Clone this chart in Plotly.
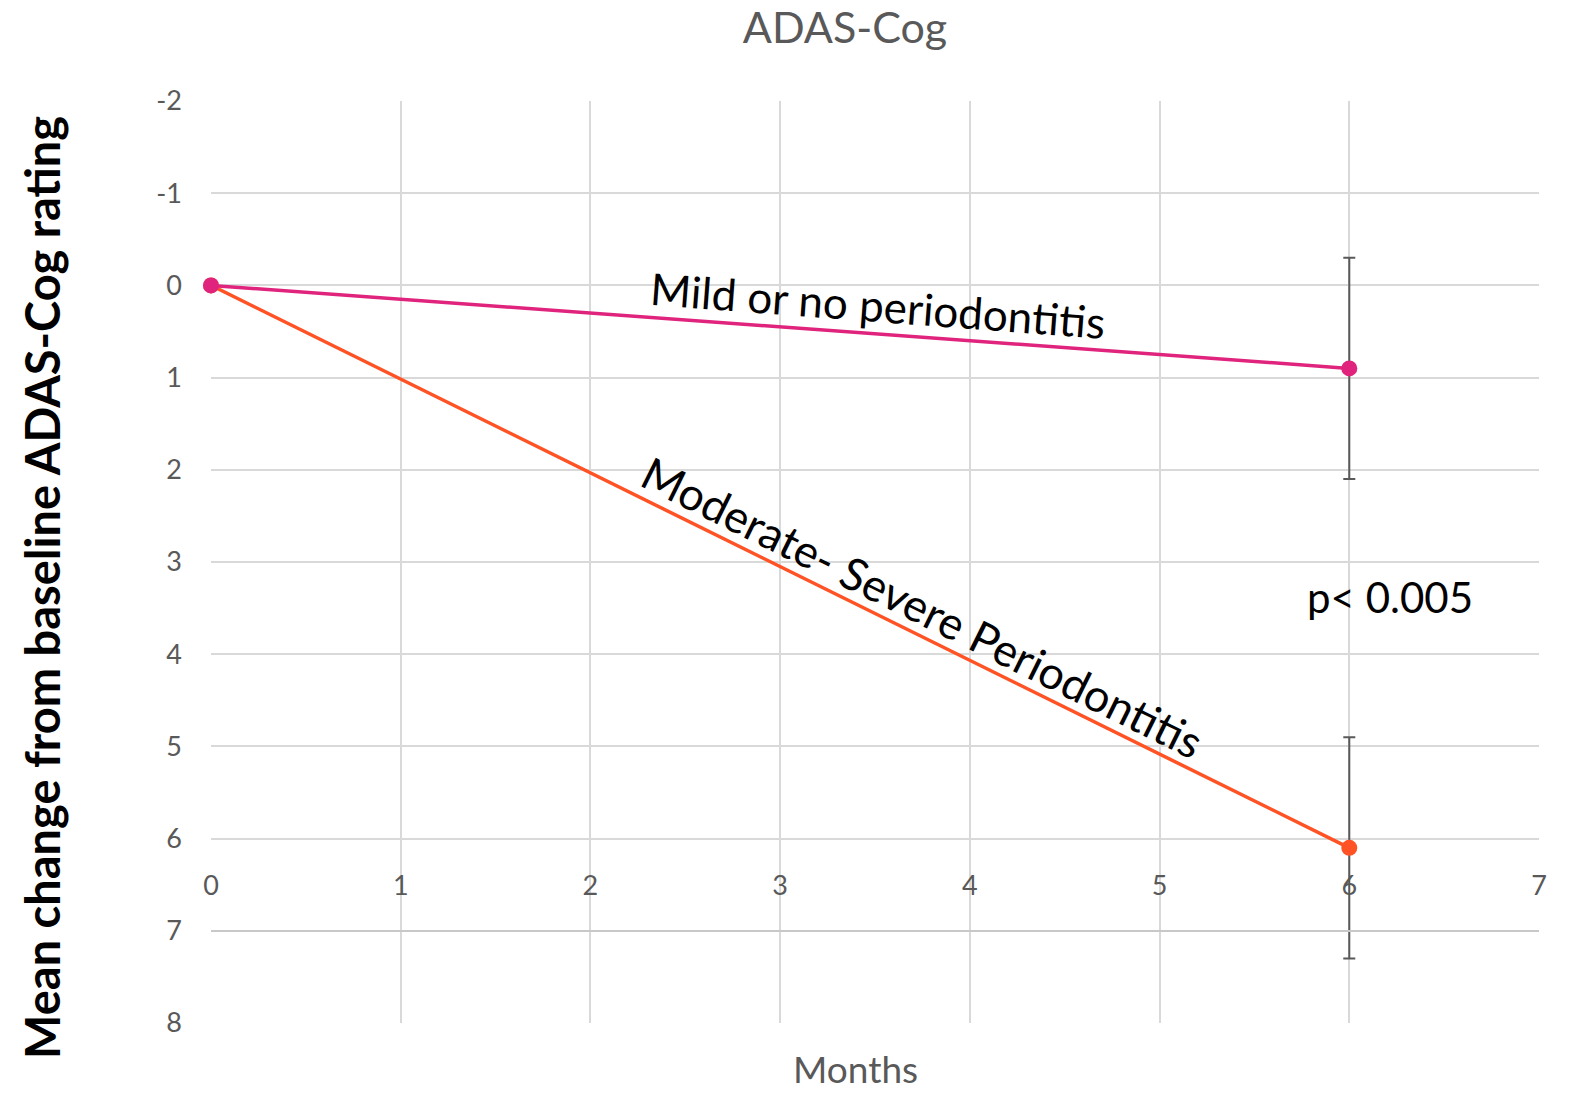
import plotly.graph_objects as go

months = [0, 6]
mild_vals = [0, 0.9]
mild_err = [0, 1.2]
mod_vals = [0, 6.1]
mod_err = [0, 1.2]
x_ticks = [0, 1, 2, 3, 4, 5, 6, 7]
y_ticks = [-2, -1, 0, 1, 2, 3, 4, 5, 6, 7, 8]
y_ticktext = ["-2", "-1", "0", "1", "2", "3", "4", "5", "6", "7", "8"]

MILD_C = "#E0247D"
MOD_C = "#FF5325"
GRID = "#d9d9d9"
TXT = "#595959"
FONT = "Lato, 'Open Sans', sans-serif"

fig = go.Figure()
fig.add_trace(go.Scatter(
    x=months, y=mod_vals, mode="lines+markers", cliponaxis=False,
    line=dict(color=MOD_C, width=3.5), marker=dict(size=16, color=MOD_C),
    error_y=dict(type="data", array=mod_err, visible=True, color="#595959", thickness=2, width=6),
    showlegend=False))
fig.add_trace(go.Scatter(
    x=months, y=mild_vals, mode="lines+markers", cliponaxis=False,
    line=dict(color=MILD_C, width=3.5), marker=dict(size=16, color=MILD_C),
    error_y=dict(type="data", array=mild_err, visible=True, color="#595959", thickness=2, width=6),
    showlegend=False))

fig.update_layout(
    width=1572, height=1095,
    margin=dict(l=211, r=33, t=101, b=72),
    paper_bgcolor="white", plot_bgcolor="white",
    font=dict(family=FONT, color=TXT),
    title=dict(text="ADAS-Cog", x=845/1572, y=1-28/1095, xanchor="center", yanchor="middle",
               font=dict(family=FONT, size=43, color=TXT)),
    xaxis=dict(range=[0, 7], tickvals=x_ticks, showgrid=True, gridcolor=GRID, gridwidth=2,
               zeroline=False, anchor="free", position=0.1, side="top",
               showline=True, linecolor="#c8c8c8", linewidth=2,
               ticks="", ticklabelstandoff=24,
               tickfont=dict(family=FONT, size=27, color=TXT)),
    yaxis=dict(range=[8, -2], tickvals=y_ticks, ticktext=y_ticktext, showgrid=True, gridcolor=GRID, gridwidth=2,
               zeroline=False, showline=False, ticks="", ticklabelstandoff=28,
               tickfont=dict(family=FONT, size=27, color=TXT)),
)

fig.add_annotation(text="Months", xref="paper", yref="paper", x=(855-211)/1328, y=(1023-1068)/922,
                   showarrow=False, font=dict(family=FONT, size=37, color=TXT), xanchor="center", yanchor="middle")
fig.add_annotation(text="Mean change from baseline ADAS-Cog rating", xref="paper", yref="paper",
                   x=(42-211)/1328, y=(1023-588)/922, textangle=-90, showarrow=False,
                   font=dict(family=FONT, size=47, color="black", weight="bold"),
                   xanchor="center", yanchor="middle")
fig.add_annotation(text="Mild or no periodontitis", x=3.516, y=0.21, textangle=4.3, showarrow=False,
                   font=dict(family=FONT, size=44, color="black"), xanchor="center", yanchor="middle")
fig.add_annotation(text="Moderate- Severe Periodontitis", x=3.748, y=3.49, textangle=26.4, showarrow=False,
                   font=dict(family=FONT, size=45, color="black"), xanchor="center", yanchor="middle")
fig.add_annotation(text="p< 0.005", x=6.215, y=3.38, showarrow=False,
                   font=dict(family=FONT, size=42, color="black"), xanchor="center", yanchor="middle")

fig.write_html("out.html")
